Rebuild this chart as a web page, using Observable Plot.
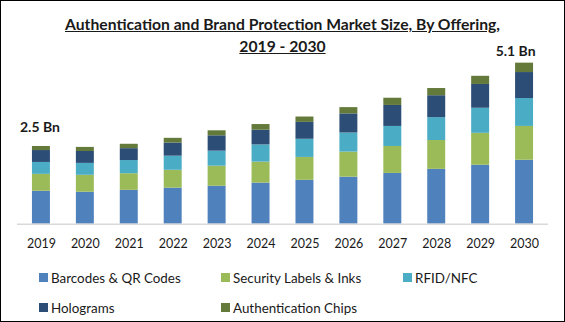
<!DOCTYPE html>
<html>
<head>
<meta charset="utf-8">
<script src="https://cdn.jsdelivr.net/npm/d3@7"></script>
<script src="https://cdn.jsdelivr.net/npm/@observablehq/plot@0.6"></script>
<style>
  body { margin: 0; background: #fff; }
  #wrap { position: relative; width: 565px; height: 322px; box-sizing: border-box; border: 1px solid #000; overflow: hidden; font-family: Lato, "Open Sans", sans-serif; color: #1a1a1a; background: #fff; }
  #title { position: absolute; left: 0; right: 0; top: 12px; text-align: center; font-weight: bold; font-size: 15.7px; line-height: 22px; text-decoration: underline; z-index: 2; }
  #chart { position: absolute; left: -1px; top: 29px; z-index: 1; }
  #legend { position: absolute; left: 0; top: 0; width: 565px; height: 322px; z-index: 2; pointer-events: none; }
  .item { position: absolute; font-size: 13.4px; line-height: 16px; white-space: nowrap; }
  .sw { position: absolute; width: 9px; height: 9px; }
</style>
</head>
<body>
<div id="wrap">
  <div id="title">Authentication and Brand Protection Market Size, By Offering,<br>2019 - 2030</div>
  <div id="chart"></div>
  <div id="legend"></div>
</div>
<script>
const years = ["2019","2020","2021","2022","2023","2024","2025","2026","2027","2028","2029","2030"];
const seriesNames = ["Barcodes & QR Codes","Security Labels & Inks","RFID/NFC","Holograms","Authentication Chips"];
const seriesColors = ["#4F81BD","#9BBB59","#4BACC6","#2C4D75","#647A3A"];
const barcodes  = [1.05,1.02,1.08,1.15,1.21,1.31,1.40,1.50,1.62,1.75,1.88,2.04];
const security  = [0.54,0.54,0.53,0.57,0.64,0.67,0.73,0.80,0.86,0.92,1.02,1.08];
const rfid      = [0.38,0.38,0.42,0.45,0.48,0.55,0.58,0.61,0.64,0.73,0.80,0.89];
const holograms = [0.38,0.38,0.38,0.42,0.49,0.47,0.54,0.61,0.67,0.70,0.76,0.83];
const chips     = [0.13,0.13,0.14,0.15,0.16,0.18,0.17,0.20,0.23,0.23,0.26,0.30];
const firstLabel = {year: "2019", text: "2.5 Bn"};
const lastLabel  = {year: "2030", text: "5.1 Bn"};

const seriesValues = [barcodes, security, rfid, holograms, chips];
const rows = [];
seriesNames.forEach((name, si) => {
  years.forEach((year, yi) => rows.push({year, series: name, value: seriesValues[si][yi]}));
});
const totals = years.map((year, yi) => ({year, total: d3.sum(seriesValues, s => s[yi])}));
const labelRows = [firstLabel, lastLabel].map(l => ({...l, total: totals.find(t => t.year === l.year).total}));

const plot = Plot.plot({
  width: 565,
  height: 227,
  marginLeft: 17,
  marginRight: 16,
  marginTop: 12,
  marginBottom: 33,
  style: {background: "transparent", fontFamily: "Lato, 'Open Sans', sans-serif", color: "#1a1a1a"},
  x: {domain: years, paddingInner: 0.6, paddingOuter: 0.3, label: null, tickSize: 0, tickPadding: 15},
  y: {domain: [0, 5.8], axis: null},
  color: {domain: seriesNames, range: seriesColors},
  marks: [
    Plot.barY(rows, Plot.stackY({x: "year", y: "value", fill: "series", order: seriesNames})),
    Plot.ruleY([0], {stroke: "#D9D9D9", strokeWidth: 1.5}),
    Plot.text(labelRows.filter(d => d.year === "2019"), {x: "year", y: "total", text: "text", dy: -19, dx: -1.5, fontWeight: "bold", fontSize: 14, fill: "#1a1a1a"}),
    Plot.text(labelRows.filter(d => d.year === "2030"), {x: "year", y: "total", text: "text", dy: -12, dx: -9, fontWeight: "bold", fontSize: 14, fill: "#1a1a1a"})
  ]
});
plot.querySelectorAll("g[aria-label='x-axis tick label']").forEach(g => {
  g.setAttribute("font-size", "12.5");
});
document.getElementById("chart").appendChild(plot);

// legend
const legendPos = [[38, 277], [220, 277], [402, 277], [38, 307], [220, 307]];
const legend = document.getElementById("legend");
seriesNames.forEach((name, i) => {
  const [x, y] = legendPos[i];
  const sw = document.createElement("div");
  sw.className = "sw";
  sw.style.left = x + "px";
  sw.style.top = (y - 5) + "px";
  sw.style.background = seriesColors[i];
  legend.appendChild(sw);
  const t = document.createElement("div");
  t.className = "item";
  t.style.left = (x + 12) + "px";
  t.style.top = (y - 8) + "px";
  t.textContent = name;
  legend.appendChild(t);
});
</script>
</body>
</html>
